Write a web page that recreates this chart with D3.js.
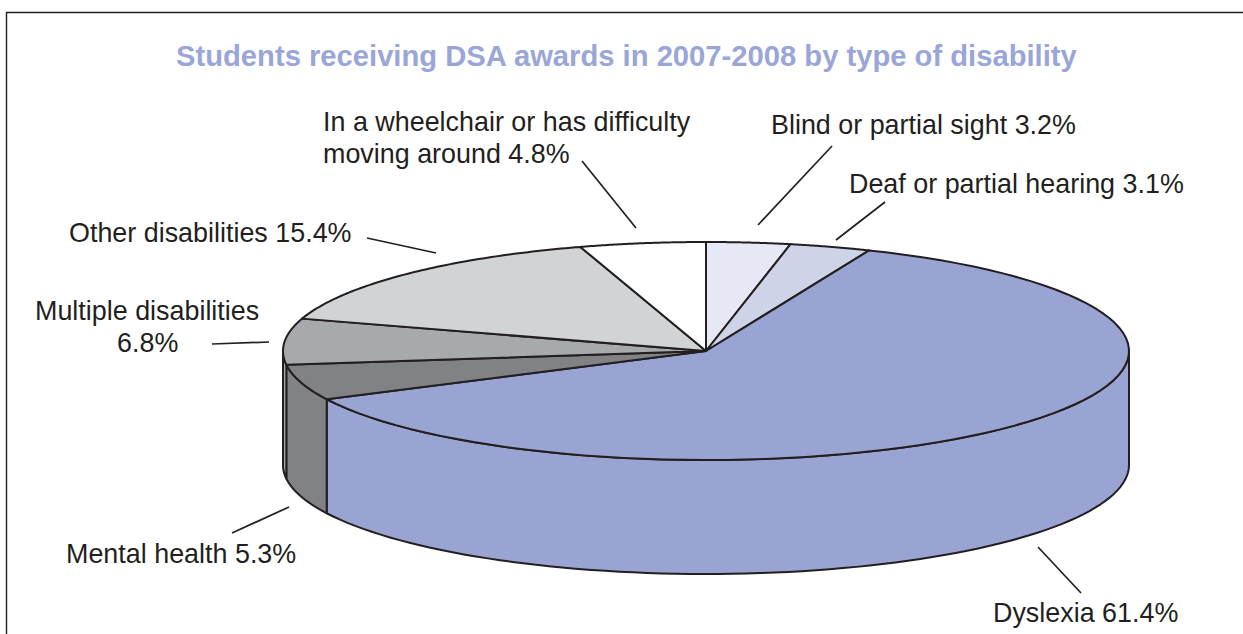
<!DOCTYPE html>
<html>
<head>
<meta charset="utf-8">
<script src="https://cdn.jsdelivr.net/npm/d3@7"></script>
<style>
  html, body { margin: 0; padding: 0; background: #fff; overflow: hidden; }
  text { font-family: "Liberation Sans", Arial, sans-serif; fill: #231f20; }
</style>
</head>
<body>
<div id="chart"></div>
<script>
// data, clockwise from 12 o'clock
const categories = ['Blind or partial sight', 'Deaf or partial hearing', 'Dyslexia', 'Mental health',
                    'Multiple disabilities', 'Other disabilities', 'In a wheelchair or has difficulty moving around'];
const shares = [3.2, 3.1, 61.4, 5.3, 6.8, 15.4, 4.8];
const sliceColors = ['#e6e9f5', '#ced3e8', '#99a4d3', '#808285', '#a7a9ac', '#d1d3d4', '#ffffff'];
const titleText = 'Students receiving DSA awards in 2007-2008 by type of disability';

// label layout: text lines + leader line ends
const labels = [
    { lines: [['Blind or partial sight 3.2%', 771, 134]], leader: [832, 146, 758, 225] },
    { lines: [['Deaf or partial hearing 3.1%', 849, 193]], leader: [885, 202, 836, 240] },
    { lines: [['Dyslexia 61.4%', 993, 622]], leader: [1081, 593, 1038, 547] },
    { lines: [['Mental health 5.3%', 66, 563]], leader: [232, 533, 289, 507] },
    { lines: [['Multiple disabilities', 35, 320], ['6.8%', 117, 352]], leader: [212, 344, 269, 342] },
    { lines: [['Other disabilities 15.4%', 69, 242]], leader: [367, 238, 436, 253] },
    { lines: [['In a wheelchair or has difficulty', 323, 131], ['moving around 4.8%', 323, 163]], leader: [582, 161, 636, 228] }
];

const width = 1243, height = 634;
const cx = 706, cy = 351, rx = 423, ry = 109, depth = 114;

const svg = d3.select('#chart').append('svg')
    .attr('width', width)
    .attr('height', height)
    .style('display', 'block');

// frame, open at the right and the bottom
svg.append('path')
    .attr('d', d3.line()([[6.5, height], [6.5, 12.5], [width, 12.5]]))
    .attr('fill', 'none')
    .attr('stroke', '#231f20')
    .attr('stroke-width', 1.4);

svg.append('text')
    .attr('x', 176)
    .attr('y', 66)
    .attr('font-size', 29.2)
    .attr('font-weight', 'bold')
    .style('fill', '#9ba6d8')
    .text(titleText);

const pie = d3.pie().sort(null).value(d => d)
    .startAngle(0).endAngle(2 * Math.PI);
const slices = pie(shares);

// unit scales map the flat pie onto the ellipse
const xScale = d3.scaleLinear().domain([-1, 1]).range([cx - rx, cx + rx]);
const yScale = d3.scaleLinear().domain([-1, 1]).range([cy - ry, cy + ry]);
const rimX = a => xScale(Math.sin(a));
const rimY = a => yScale(-Math.cos(a));

function rimPoints(a0, a1, dy) {
    const n = 80;
    return d3.range(n + 1).map(i => {
        const a = a0 + (a1 - a0) * i / n;
        return [rimX(a), rimY(a) + dy];
    });
}

// side wall, only the front half of the rim shows
const front = slices
    .map((d, i) => ({ a0: Math.max(d.startAngle, Math.PI / 2), a1: Math.min(d.endAngle, 3 * Math.PI / 2), i: i }))
    .filter(d => d.a1 > d.a0);

svg.append('g').selectAll('path')
    .data(front)
    .enter().append('path')
    .attr('d', d => d3.line()(rimPoints(d.a0, d.a1, 0).concat(rimPoints(d.a1, d.a0, depth))) + 'Z')
    .attr('fill', d => sliceColors[d.i])
    .attr('stroke', '#231f20')
    .attr('stroke-width', 2)
    .attr('stroke-linejoin', 'round');

// top face
svg.append('g').selectAll('path')
    .data(slices)
    .enter().append('path')
    .attr('d', d => d3.line()([[cx, cy]].concat(rimPoints(d.startAngle, d.endAngle, 0))) + 'Z')
    .attr('fill', (d, i) => sliceColors[i])
    .attr('stroke', '#231f20')
    .attr('stroke-width', 2)
    .attr('stroke-linejoin', 'round');

// leaders
svg.append('g').selectAll('line')
    .data(labels)
    .enter().append('line')
    .attr('x1', d => d.leader[0])
    .attr('y1', d => d.leader[1])
    .attr('x2', d => d.leader[2])
    .attr('y2', d => d.leader[3])
    .attr('stroke', '#231f20')
    .attr('stroke-width', 1.7);

// label text
svg.append('g').selectAll('text')
    .data(labels.flatMap(d => d.lines))
    .enter().append('text')
    .attr('x', d => d[1])
    .attr('y', d => d[2])
    .attr('font-size', 26.9)
    .text(d => d[0]);
</script>
</body>
</html>
